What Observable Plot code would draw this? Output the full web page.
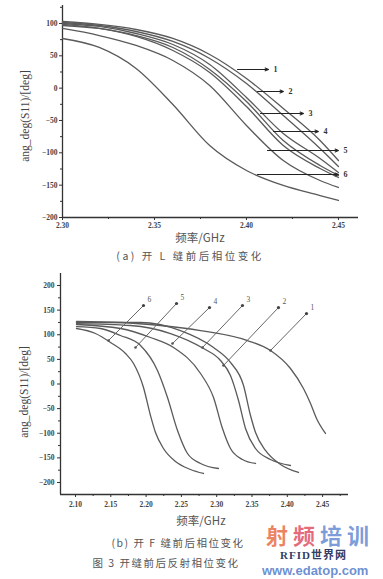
<!DOCTYPE html>
<html><head><meta charset="utf-8">
<script src="https://cdn.jsdelivr.net/npm/d3@7"></script>
<script src="https://cdn.jsdelivr.net/npm/@observablehq/plot@0.6"></script>
<style>
html,body{margin:0;padding:0;background:#fff;}
#wrap{position:relative;width:383px;height:579px;overflow:hidden;background:#fff;}
#wrap svg{position:absolute;left:0;}
.t{position:absolute;white-space:nowrap;color:#444;font-family:'Liberation Serif','Noto Sans CJK SC',serif;transform:translate(-50%,-50%);line-height:1;}
.cjk{font-family:'Noto Sans CJK SC','Liberation Serif',sans-serif;}
.rot{transform:translate(-50%,-50%) rotate(-90deg);}
.wm{position:absolute;white-space:nowrap;line-height:1;font-weight:bold;}
</style></head><body><div id="wrap"></div>
<script>
// ---------- chart (a) data ----------
const freqA = [2.30, 2.32, 2.34, 2.36, 2.38, 2.40, 2.42, 2.44, 2.45];
const phaseA1 = [103.1, 98.5, 90.7, 76.8, 52.1, 15.0, -31.4, -80.9, -111.9];
const phaseA2 = [101.5, 96.9, 87.6, 72.2, 45.9, 7.2, -42.3, -93.3, -121.1];
const phaseA3 = [100.0, 95.4, 84.5, 67.5, 36.6, -14.4, -70.1, -108.8, -130.4];
const phaseA4 = [96.9, 92.3, 81.4, 62.9, 28.9, -20.6, -80.9, -119.6, -135.0];
const phaseA5 = [98.5, 92.3, 79.9, 58.2, 24.2, -28.4, -88.7, -124.2, -138.1];
const phaseA6 = [92.3, 81.4, 66.0, 42.8, 4.1, -57.7, -111.9, -142.8, -153.6];
const phaseA7 = [76.8, 62.9, 30.4, -25.3, -88.7, -127.3, -150.5, -166.0, -173.7];
const arrowLabelsA = ["1", "2", "3", "4", "5", "6"];
const arrowYA = [28.9, -5.2, -39.2, -67.0, -96.4, -133.5];
const arrowFromA = [2.3951, 2.4060, 2.4076, 2.4147, 2.4114, 2.4060];
const arrowToA = [2.4120, 2.4201, 2.4310, 2.4391, 2.4500, 2.4500];
const xTicksA = [2.30, 2.35, 2.40, 2.45];
const xMinorA = [2.325, 2.375, 2.425];
const yTicksA = [100, 50, 0, -50, -100, -150, -200];
const yMinorA = [125, 75, 25, -25, -75, -125, -175];

// ---------- chart (b) data ----------
const freqB1 = [2.1014, 2.1283, 2.1496, 2.1708, 2.1822, 2.1963, 2.2062, 2.2133, 2.2246, 2.2416, 2.2629, 2.2813];
const phaseB1 = [112.7, 102.5, 84.3, 61.9, 41.6, -7.1, -64.0, -98.5, -131.0, -157.4, -173.6, -181.7];
const freqB2 = [2.1014, 2.1354, 2.1637, 2.1921, 2.2161, 2.2303, 2.2445, 2.2586, 2.2771, 2.3025];
const phaseB2 = [116.7, 112.7, 98.5, 78.2, 27.4, -27.4, -94.4, -141.1, -161.4, -171.6];
const freqB3 = [2.1014, 2.1637, 2.2062, 2.2388, 2.2771, 2.2955, 2.3082, 2.3195, 2.3365, 2.3550];
const phaseB3 = [120.8, 112.7, 94.4, 74.1, 21.3, -27.4, -90.4, -131.0, -153.3, -161.4];
const freqB4 = [2.1014, 2.1779, 2.2346, 2.2813, 2.3054, 2.3195, 2.3309, 2.3408, 2.3550, 2.3762, 2.4045];
const phaseB4 = [122.8, 118.8, 102.5, 72.1, 47.7, 17.3, -33.5, -90.4, -131.0, -153.3, -165.5];
const freqB5 = [2.1014, 2.1921, 2.2487, 2.2955, 2.3195, 2.3380, 2.3479, 2.3550, 2.3691, 2.3904, 2.4159];
const phaseB5 = [124.9, 124.9, 108.6, 74.1, 43.7, -3.0, -64.0, -98.5, -135.0, -163.5, -179.7];
const freqB6 = [2.1014, 2.1637, 2.2204, 2.2771, 2.3436, 2.3762, 2.4045, 2.4229, 2.4329, 2.4414, 2.4541];
const phaseB6 = [126.9, 124.9, 118.8, 108.6, 88.3, 68.0, 31.5, -9.1, -39.6, -70.1, -100.5];
const leaderLabelsB = ["6", "5", "4", "3", "2", "1"];
const leaderFromX = [2.1467, 2.1850, 2.2374, 2.2799, 2.3096, 2.3762];
const leaderFromY = [88.3, 74.1, 82.2, 74.1, 37.6, 68.0];
const leaderToX = [2.1963, 2.2431, 2.2898, 2.3365, 2.3875, 2.4272];
const leaderToY = [159.4, 163.5, 155.3, 159.4, 155.3, 143.1];
const xTicksB = [2.10, 2.15, 2.20, 2.25, 2.30, 2.35, 2.40, 2.45];
const xMinorB = [2.125, 2.175, 2.225, 2.275, 2.325, 2.375, 2.425, 2.475];
const yTicksB = [200, 150, 100, 50, 0, -50, -100, -150, -200];
const yMinorB = [175, 125, 75, 25, -25, -75, -125, -175];

// ---------- texts ----------
const yLabel = "ang_deg(S11)/[deg]";
const xLabel = "频率/GHz";
const captionA = "(a) 开 L 缝前后相位变化";
const captionB = "(b) 开 F 缝前后相位变化";
const figTitle = "图 3 开缝前后反射相位变化";
const wmChars = ["射", "频", "培", "训"];
const wmSite1 = "RFID世界网";
const wmSite2 = "www.edatop.com";

const rows = (id, xs, ys) => xs.map((x, i) => ({id, x, y: ys[i]}));
const rowsA = [phaseA1, phaseA2, phaseA3, phaseA4, phaseA5, phaseA6, phaseA7]
  .flatMap((ys, k) => rows("a" + k, freqA, ys));
const arrowsA = arrowLabelsA.map((l, i) => ({label: l, y: arrowYA[i], x1: arrowFromA[i], x2: arrowToA[i]}));
const rowsB = [[freqB1, phaseB1], [freqB2, phaseB2], [freqB3, phaseB3], [freqB4, phaseB4], [freqB5, phaseB5], [freqB6, phaseB6]]
  .flatMap(([xs, ys], k) => rows("b" + k, xs, ys));
const leadersB = leaderLabelsB.map((l, i) => ({label: l, x1: leaderFromX[i], y1: leaderFromY[i], x2: leaderToX[i], y2: leaderToY[i]}));

const style = {background: "transparent", fontFamily: "'Liberation Serif', serif", fontSize: "7.5px", color: "#444", overflow: "visible"};
const axisCol = "#333";
const f2 = d3.format(".2f");

const chartA = Plot.plot({
  width: 383, height: 232,
  marginLeft: 62, marginRight: 25, marginTop: 5, marginBottom: 15,
  x: {domain: [2.30, 2.4609]},
  y: {domain: [-200, 127.8]},
  style,
  marks: [
    Plot.axisX({ticks: xTicksA, tickFormat: f2, tickSize: 3, tickPadding: 2, label: null, fontWeight: "bold", stroke: axisCol}),
    Plot.axisX({ticks: xMinorA, tickFormat: () => "", tickSize: 2, label: null, stroke: axisCol}),
    Plot.axisY({ticks: yTicksA, tickSize: 3, tickPadding: 2, label: null, fontWeight: "bold", stroke: axisCol}),
    Plot.axisY({ticks: yMinorA.filter(v => v < 127), tickFormat: () => "", tickSize: 2, label: null, stroke: axisCol}),
    Plot.ruleX([2.30], {stroke: axisCol, strokeWidth: 1.3}),
    Plot.ruleY([-200], {stroke: axisCol, strokeWidth: 1.3}),
    Plot.line(rowsA, {x: "x", y: "y", z: "id", stroke: "#5a5a5a", strokeWidth: 1.3, curve: "monotone-x"}),
    Plot.arrow(arrowsA, {x1: "x1", x2: "x2", y1: "y", y2: "y", stroke: "#222", strokeWidth: 1.1, headLength: 5, headAngle: 45}),
    Plot.text(arrowsA, {x: "x2", y: "y", text: "label", dx: 5, textAnchor: "start", fontSize: 8, fontWeight: "bold", fill: "#333"})
  ]
});
chartA.style.top = "0px";

const chartB = Plot.plot({
  width: 383, height: 248,
  marginLeft: 60, marginRight: 35, marginTop: 11, marginBottom: 16,
  x: {domain: [2.07875, 2.48669]},
  y: {domain: [-224.4, 224.4]},
  style,
  marks: [
    Plot.axisX({ticks: xTicksB, tickFormat: f2, tickSize: 3, tickPadding: 4, label: null, fontWeight: "bold", stroke: axisCol}),
    Plot.axisX({ticks: xMinorB, tickFormat: () => "", tickSize: 2, label: null, stroke: axisCol}),
    Plot.axisY({ticks: yTicksB, tickSize: 3, tickPadding: 3, label: null, fontWeight: "bold", stroke: axisCol}),
    Plot.axisY({ticks: yMinorB, tickFormat: () => "", tickSize: 2, label: null, stroke: axisCol}),
    Plot.ruleX([2.07875], {stroke: axisCol, strokeWidth: 1.3}),
    Plot.ruleY([-224.4], {stroke: axisCol, strokeWidth: 1.3}),
    Plot.line(rowsB, {x: "x", y: "y", z: "id", stroke: "#5a5a5a", strokeWidth: 1.3, curve: "monotone-x"}),
    Plot.link(leadersB, {x1: "x1", y1: "y1", x2: "x2", y2: "y2", stroke: "#666", strokeWidth: 1}),
    Plot.dot(leadersB, {x: "x2", y: "y2", r: 1.6, fill: "#444", stroke: "none"}),
    Plot.dot(leadersB, {x: "x1", y: "y1", r: 1.3, fill: "#555", stroke: "none"}),
    Plot.text(leadersB, {x: "x2", y: "y2", text: "label", dx: 4, dy: -6, textAnchor: "start", fontSize: 7.5, fill: "#555"})
  ]
});
chartB.style.top = "262px";

const wrap = document.getElementById("wrap");
wrap.appendChild(chartA);
wrap.appendChild(chartB);

function addText(txt, x, y, size, cls, extra) {
  const d = document.createElement("div");
  d.className = "t " + (cls || "");
  d.textContent = txt;
  d.style.left = x + "px";
  d.style.top = y + "px";
  d.style.fontSize = size + "px";
  if (extra) Object.assign(d.style, extra);
  wrap.appendChild(d);
  return d;
}
addText(yLabel, 26, 116, 11.5, "rot");
addText(yLabel, 25, 392, 11.5, "rot");
addText(xLabel, 200, 238, 11.5, "cjk", {color: "#555"});
addText(xLabel, 201, 521, 11.5, "cjk", {color: "#555"});
addText(captionA, 190, 256, 10.5, "cjk", {letterSpacing: "2.5px", color: "#555"});
addText(captionB, 178, 543, 10.5, "cjk", {letterSpacing: "1.5px", color: "#555"});
addText(figTitle, 166, 563, 10.5, "cjk", {letterSpacing: "1.5px", color: "#555"});

// watermark texts (stacked at bottom right)
function addWm(txt, x, y, size, color, fam, extra) {
  const d = document.createElement("div");
  d.className = "wm";
  d.textContent = txt;
  d.style.left = x + "px";
  d.style.top = y + "px";
  d.style.fontSize = size + "px";
  d.style.color = color;
  d.style.fontFamily = fam;
  if (extra) Object.assign(d.style, extra);
  wrap.appendChild(d);
}
const wmColors = ["rgba(232,110,70,0.85)", "rgba(224,80,100,0.85)", "rgba(100,140,210,0.85)", "rgba(100,140,210,0.85)"];
wmChars.forEach((c, i) => addWm(c, 266 + i * 27, 523, 22, wmColors[i], "'Noto Sans CJK SC'"));
addWm(wmSite1, 280, 550, 11, "rgba(20,35,80,0.9)", "'Liberation Serif','Noto Sans CJK SC'", {letterSpacing: "1px"});
addWm(wmSite2, 262, 564, 13, "rgba(90,130,205,0.9)", "'Liberation Sans','DejaVu Sans'");
</script>
</body></html>
